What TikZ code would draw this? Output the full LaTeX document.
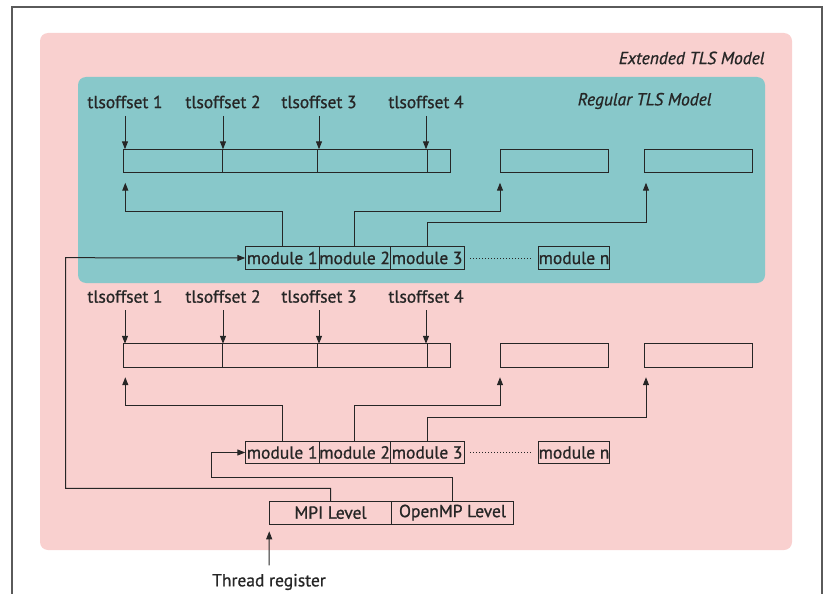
\documentclass[tikz,border=0pt]{standalone}
\usepackage{fontspec}
\setmainfont{PT Sans}[BoldFont=PT Sans, BoldFeatures={FakeBold=0.9},
  BoldItalicFont=PT Sans Italic, BoldItalicFeatures={FakeBold=0.9}]
\usetikzlibrary{arrows.meta,positioning,calc}
\definecolor{pinkbg}{HTML}{F9D0CF}
\definecolor{tealbg}{HTML}{88C8CA}
\definecolor{ink}{HTML}{262626}
\definecolor{framegray}{HTML}{5A5A5A}

\begin{document}
\begin{tikzpicture}[x=1pt, y=-1pt, ink, line width=1pt,
    >={Triangle[length=8pt,width=6pt]},
    lbl/.style={font=\fontsize{17.5}{20}\selectfont\bfseries, inner sep=0pt},
    title/.style={font=\fontsize{17.5}{20}\selectfont\bfseries\itshape, inner sep=0pt, anchor=east},
    cell/.style={draw, rectangle, anchor=north west, minimum height=23.4pt, inner sep=0pt, outer sep=0pt},
    modbox/.style={draw, rectangle, anchor=north west, minimum height=22.6pt, inner sep=0pt, outer sep=0pt,
                   font=\fontsize{17.5}{20}\selectfont\bfseries},
    level/.style={modbox, minimum height=23.3pt}]
  \useasboundingbox (0,0) rectangle (828,594);
  \draw[framegray, line width=1.4pt] (12,594) -- (12,7) -- (822,7) -- (822,594);
  \fill[pinkbg, rounded corners=8pt] (40,33) rectangle (792,550);
  \fill[tealbg, rounded corners=8pt] (78,77) rectangle (765,283);
  \node[title] (ext) at (765,58) {Extended TLS Model};
  \node[title] (reg) at (712,101) {Regular TLS Model};

  % regular model
  \node[lbl] (t1u) at (125,102) {tlsoffset 1};
  \node[lbl] (t2u) at (223,102) {tlsoffset 2};
  \node[lbl] (t3u) at (319,102) {tlsoffset 3};
  \node[lbl] (t4u) at (426,102) {tlsoffset 4};
  \node[cell, minimum width=99.4pt]  (c1u) at (123.3,149.3) {};
  \node[cell, minimum width=95pt, right=0pt of c1u]    (c2u) {};
  \node[cell, minimum width=109.6pt, right=0pt of c2u] (c3u) {};
  \node[cell, minimum width=23.4pt, right=0pt of c3u]  (c4u) {};
  \node[cell, minimum width=108.7pt] (e1u) at (500,149.3) {};
  \node[cell, minimum width=108.7pt] (e2u) at (644,149.3) {};
  \node[modbox, minimum width=73.7pt] (m1u) at (245.3,246.7) {module 1};
  \node[modbox, minimum width=71.3pt, right=0pt of m1u] (m2u) {module 2};
  \node[modbox, minimum width=73.7pt, right=0pt of m2u] (m3u) {module 3};
  \node[modbox, minimum width=70pt] (mnu) at (538.7,246.7) {module n};
  \draw[->] ([yshift=-7pt]t1u.south) -- (t1u |- c1u.north);
  \draw[->] ([yshift=-7pt]t2u.south) -- (t2u |- c2u.north);
  \draw[->] ([yshift=-7pt]t3u.south) -- (t3u |- c3u.north);
  \draw[->] ([yshift=-7pt]t4u.south) -- (t4u |- c4u.north);
  \draw[->, shorten >=10pt] (m1u.north) -- ++(0,-35.5) -| ([xshift=2pt]c1u.south west);
  \draw[->, shorten >=10pt] (m2u.north) -- ++(0,-35.5) -| (e1u.south west);
  \draw[->, shorten >=10pt] (m3u.north) -- ++(0,-24) -| ([xshift=2pt]e2u.south west);
  \draw[dotted, shorten <=6pt, shorten >=8pt] (m3u.east) -- (mnu.west);

  % extended model
  \node[lbl] (t1l) at (125,296.5) {tlsoffset 1};
  \node[lbl] (t2l) at (223,296.5) {tlsoffset 2};
  \node[lbl] (t3l) at (319,296.5) {tlsoffset 3};
  \node[lbl] (t4l) at (426,296.5) {tlsoffset 4};
  \node[cell, minimum width=99.4pt]  (c1l) at (123.3,343.8) {};
  \node[cell, minimum width=95pt, right=0pt of c1l]    (c2l) {};
  \node[cell, minimum width=109.6pt, right=0pt of c2l] (c3l) {};
  \node[cell, minimum width=23.4pt, right=0pt of c3l]  (c4l) {};
  \node[cell, minimum width=108.7pt] (e1l) at (500,343.8) {};
  \node[cell, minimum width=108.7pt] (e2l) at (644,343.8) {};
  \node[modbox, minimum width=73.7pt] (m1l) at (245.3,441.2) {module 1};
  \node[modbox, minimum width=71.3pt, right=0pt of m1l] (m2l) {module 2};
  \node[modbox, minimum width=73.7pt, right=0pt of m2l] (m3l) {module 3};
  \node[modbox, minimum width=70pt] (mnl) at (538.7,441.2) {module n};
  \draw[->] ([yshift=-7pt]t1l.south) -- (t1l |- c1l.north);
  \draw[->] ([yshift=-7pt]t2l.south) -- (t2l |- c2l.north);
  \draw[->] ([yshift=-7pt]t3l.south) -- (t3l |- c3l.north);
  \draw[->] ([yshift=-7pt]t4l.south) -- (t4l |- c4l.north);
  \draw[->, shorten >=10pt] (m1l.north) -- ++(0,-35.5) -| ([xshift=2pt]c1l.south west);
  \draw[->, shorten >=10pt] (m2l.north) -- ++(0,-35.5) -| (e1l.south west);
  \draw[->, shorten >=10pt] (m3l.north) -- ++(0,-24) -| ([xshift=2pt]e2l.south west);
  \draw[dotted, shorten <=6pt, shorten >=8pt] (m3l.east) -- (mnl.west);

  % thread register
  \node[level, minimum width=122.4pt] (mpi) at (269.3,501) {MPI Level};
  \node[level, minimum width=121.6pt, right=0pt of mpi] (omp) {OpenMP Level};
  \node[lbl] (reg) at (269,582) {Thread register};
  \draw[->] (mpi.north) -- ++(0,-12.7) -| (65.7,257.7) -- (m1u.west);
  \draw[->] (omp.north) -- ++(0,-23.7) -| (211,452.5) -- (m1l.west);
  \draw[->, shorten >=7pt] ([yshift=8pt]reg.north) -- (mpi.south west);
\end{tikzpicture}
\end{document}
